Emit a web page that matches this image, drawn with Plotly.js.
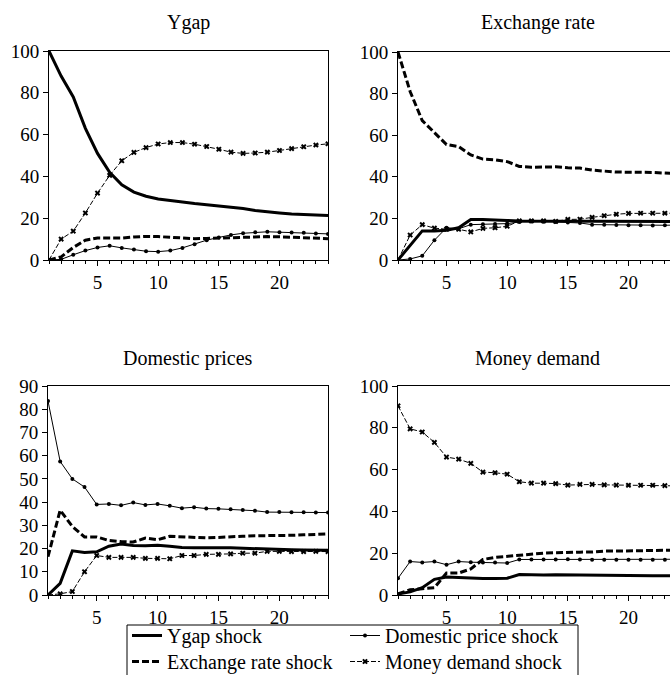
<!DOCTYPE html>
<html>
<head>
<meta charset="utf-8">
<script src="https://cdn.plot.ly/plotly-3.0.1.min.js"></script>
<style>
html,body{margin:0;padding:0;overflow:hidden;background:#fff;}
#chart{width:700px;height:675px;}
</style>
</head>
<body>
<div id="chart"></div>
<script>
const periods = [1,2,3,4,5,6,7,8,9,10,11,12,13,14,15,16,17,18,19,20,21,22,23,24];
const panelTitles = ["Ygap", "Exchange rate", "Domestic prices", "Money demand"];
const shockNames = ["Ygap shock", "Exchange rate shock", "Domestic price shock", "Money demand shock"];

// Panel 1: Ygap
const ygap_ygapShock = [100,88,78,63,51,42,36,32.5,30.5,29.2,28.5,27.6,27,26.4,25.8,25.3,24.6,23.7,23,22.5,22,21.7,21.5,21.3];
const ygap_exchShock = [0,1.5,6,9.5,10.5,10.5,10.5,11,11.3,11.2,10.8,10.3,10.2,10.3,10.5,10.8,11,11.2,11.2,11.1,10.9,10.6,10.3,10.2];
const ygap_priceShock = [0,0.3,2.5,4.5,6,6.8,5.8,5,4.2,4,4.5,5.8,7.5,9.5,10.8,12,12.8,13.3,13.5,13.3,13.2,13,12.7,12.5];
const ygap_moneyShock = [0,10,13.8,22.5,32,40.5,47.5,51.5,53.8,55.5,56.2,56.2,55.4,54.3,53,51.6,51,51.2,51.6,52.4,53.3,54.2,55,55.6];

// Panel 2: Exchange rate
const exch_ygapShock = [0,7,14,14,14.3,15.5,19.5,19.5,19.4,19,18.8,18.8,18.8,18.7,18.7,18.6,18.6,18.6,18.5,18.5,18.5,18.5,18.5,18.5];
const exch_exchShock = [100,81,67,61,55.5,54.5,50.5,48.5,48.2,47.3,45,44.6,44.7,44.8,44.3,44.2,43.2,42.6,42.3,42.2,42.2,42.1,41.8,41.6];
const exch_priceShock = [0,0.5,2,9.5,15.5,15,17,17.2,17.3,17.5,18.3,18.5,18.4,18.3,18,17.8,17,16.9,16.8,16.7,16.7,16.6,16.7,16.8];
const exch_moneyShock = [0,12,17,15.3,14.8,14.8,13.5,15.2,15.5,16.2,18.8,18.8,18.8,18.6,19.5,19.6,20.5,21.3,22,22.4,22.5,22.5,22.5,22.5];

// Panel 3: Domestic prices
const price_ygapShock = [0,5,19,18.3,18.6,21,22,21.3,21.2,21.4,21,20.5,20.4,20.5,20.4,20.3,20.1,20,19.6,19.5,19.5,19.4,19.4,19.3];
const price_exchShock = [16.5,36.5,29.5,25,25,23.5,23,22.8,24.5,23.8,25.3,25,24.8,24.6,24.8,25.2,25.3,25.5,25.5,25.6,25.7,25.9,26.1,26.3];
const price_priceShock = [83.5,57.5,50,46.5,39,39.2,38.6,39.8,38.8,39.2,38.4,37.4,37.8,37.2,37.1,36.9,36.6,36.3,35.7,35.7,35.6,35.6,35.5,35.5];
const price_moneyShock = [0,0.5,1.5,10,17,16.2,16.2,16.2,15.8,15.8,15.6,17,17,17.5,17.5,17.7,18,18,18.8,18.8,18.7,18.7,18.8,18.7];

// Panel 4: Money demand
const money_ygapShock = [0.5,1.5,3.5,7.5,8.6,8.3,8,7.9,7.9,8,9.8,9.6,9.6,9.7,9.6,9.6,9.5,9.4,9.4,9.3,9.3,9.2,9.2,9.2];
const money_exchShock = [0.5,2.5,3,3.5,10.5,10.5,12.5,17,18,18.5,19,19.8,20,20.2,20.5,20.5,20.6,21,21,21,21.2,21.3,21.4,21.5];
const money_priceShock = [8,16,15.6,16,14.5,16,15.7,15.6,15.6,15.3,17,17,17,17,17.1,17,16.9,16.9,16.9,16.9,16.9,16.9,16.9,17.1];
const money_moneyShock = [90.5,79.5,78,73,66,65,63,58.8,58.5,57.8,54.2,53.5,53.5,53.3,52.6,52.9,52.9,52.7,52.6,52.5,52.5,52.5,52.3,52.2];

const panels = [
  [ygap_ygapShock, ygap_exchShock, ygap_priceShock, ygap_moneyShock],
  [exch_ygapShock, exch_exchShock, exch_priceShock, exch_moneyShock],
  [price_ygapShock, price_exchShock, price_priceShock, price_moneyShock],
  [money_ygapShock, money_exchShock, money_priceShock, money_moneyShock]
];

const W = 700, H = 675;
const FONT = "Liberation Serif, Times New Roman, Times, serif";
// pixel boxes [left, right, top, bottom]
const boxes = [[49,328,51,260],[398,677,52,260],[48,328,386,595],[398,677,386,595]];

const styles = [
  {line:{color:'black', width:3}, mode:'lines', legend:'legend'},
  {line:{color:'black', width:3, dash:'7px,3px'}, mode:'lines', legend:'legend2'},
  {line:{color:'black', width:1}, mode:'lines+markers', marker:{symbol:'circle', size:4, color:'black'}, legend:'legend'},
  {line:{color:'black', width:1, dash:'5px,2px'}, mode:'lines+markers', marker:{symbol:'x', size:5, color:'black'}, legend:'legend2'}
];
const ranks = [1,3,2,4];

const traces = [];
const drawOrder = [2,3,1,0];
panels.forEach((series, p) => {
  drawOrder.forEach(s => {
    const st = styles[s];
    const t = {
      x: periods, y: series[s], type:'scatter', mode: st.mode,
      name: shockNames[s], line: st.line,
      xaxis: p === 0 ? 'x' : 'x' + (p+1),
      yaxis: p === 0 ? 'y' : 'y' + (p+1),
      showlegend: p === 0, legend: st.legend, legendrank: ranks[s]
    };
    if (st.marker) t.marker = st.marker;
    traces.push(t);
  });
});

const legendBase = {orientation:'h', x:127/W, xanchor:'left', yanchor:'top', bgcolor:'rgba(0,0,0,0)', borderwidth:0, font:{family:FONT, size:20}, entrywidth:173, entrywidthmode:'pixels', traceorder:'normal', itemwidth:30};

const layout = {
  width: W, height: H,
  margin:{l:0,r:0,t:0,b:0, autoexpand:false},
  paper_bgcolor:'white', plot_bgcolor:'white',
  font:{family:FONT, size:19, color:'#000000'},
  showlegend:true,
  annotations: [],
  shapes: [{type:'rect', xref:'paper', yref:'paper', x0:127/W, x1:578/W, y0:1-625/H, y1:-0.02, line:{color:'black', width:1}, fillcolor:'rgba(0,0,0,0)'}],
  legend: Object.assign({}, legendBase, {y:1-616/H}),
  legend2: Object.assign({}, legendBase, {y:1-642/H})
};

const titleY = [22, 22, 358, 358];
boxes.forEach((b, p) => {
  const xa = p === 0 ? 'xaxis' : 'xaxis' + (p+1);
  const ya = p === 0 ? 'yaxis' : 'yaxis' + (p+1);
  const xid = p === 0 ? 'x' : 'x' + (p+1);
  const yid = p === 0 ? 'y' : 'y' + (p+1);
  layout[xa] = {
    domain:[b[0]/W, b[1]/W], anchor: yid, range:[1,24],
    tickmode:'array', tickvals:[5,10,15,20], ticks:'outside', ticklen:5, tickcolor:'black', tickwidth:1,
    minor:{tickmode:'linear', tick0:0, dtick:1, ticks:'outside', ticklen:3, tickcolor:'black', showgrid:false},
    showline:true, linecolor:'black', linewidth:1, mirror:true, showgrid:false, zeroline:false, fixedrange:true,
    tickfont:{family:FONT, size:19}
  };
  const isPrice = p === 2;
  layout[ya] = {
    domain:[1-b[3]/H, 1-b[2]/H], anchor: xid,
    range: isPrice ? [0,90] : [0,100],
    tickmode:'linear', tick0:0, dtick: isPrice ? 10 : 20,
    ticks:'outside', ticklen:5, tickcolor:'black', tickwidth:1,
    showline:true, linecolor:'black', linewidth:1, mirror:true, showgrid:false, zeroline:false, fixedrange:true,
    tickfont:{family:FONT, size:19}
  };
  layout.annotations.push({
    text: panelTitles[p], xref:'paper', yref:'paper',
    x:(b[0]+b[1])/2/W, y:1-titleY[p]/H, xanchor:'center', yanchor:'middle',
    showarrow:false, font:{family:FONT, size:20}
  });
});

Plotly.newPlot('chart', traces, layout, {staticPlot:true, displayModeBar:false});
</script>
</body>
</html>
